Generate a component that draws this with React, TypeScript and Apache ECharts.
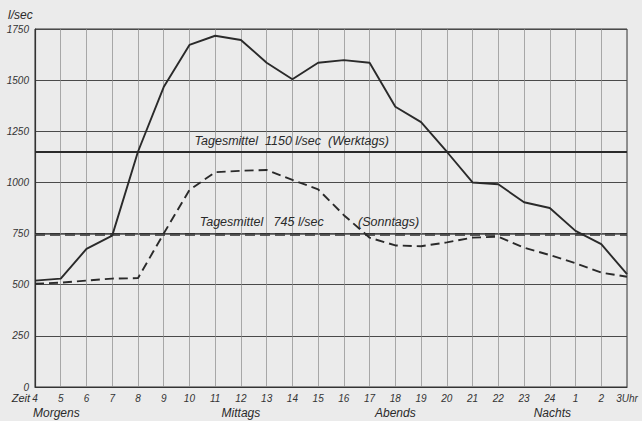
import React, { useEffect, useRef } from "react";
import * as echarts from "echarts";

const hourLabels = ["4","5","6","7","8","9","10","11","12","13","14","15","16","17","18","19","20","21","22","23","24","1","2","3"];
const werktags = [520, 530, 675, 740, 1150, 1466, 1672, 1717, 1696, 1585, 1504, 1585, 1598, 1585, 1370, 1295, 1150, 1000, 991, 903, 875, 763, 698, 552];
const sonntags = [505, 510, 520, 530, 532, 750, 963, 1050, 1057, 1061, 1012, 966, 840, 730, 692, 688, 707, 730, 735, 681, 645, 605, 559, 539];
const meanWerktags = 1150;
const meanSonntags = 745;
const yTicks = { min: 0, max: 1750, interval: 250 };

const FONT = "'Liberation Sans', Arial, sans-serif";
const INK = "#2a2a2a";

export default function App() {
  const ref = useRef<HTMLDivElement>(null);
  useEffect(() => {
    if (!ref.current) return;
    const chart = echarts.init(ref.current, undefined, { renderer: "svg" });
    const option: any = {
      animation: false,
      backgroundColor: "#ebebeb",
      grid: {
        left: 35, right: 15, top: 29, bottom: 34,
        show: true, borderColor: "#333", borderWidth: 1, backgroundColor: "transparent",
      },
      xAxis: {
        type: "category",
        data: hourLabels,
        boundaryGap: false,
        axisLine: { show: true, lineStyle: { color: "#333", width: 1.2 } },
        axisTick: { show: false },
        axisLabel: {
          margin: 6,
          fontFamily: FONT, fontStyle: "italic", fontSize: 10, color: "#333",
          interval: 0,
          formatter: (v: string, i: number) => (i === hourLabels.length - 1 ? v + "Uhr" : v),
        },
        splitLine: { show: true, lineStyle: { color: "#8a8a8a", width: 0.7 } },
      },
      yAxis: {
        type: "value",
        min: yTicks.min, max: yTicks.max, interval: yTicks.interval,
        axisLine: { show: true, lineStyle: { color: "#333", width: 1.2 } },
        axisTick: { show: false },
        axisLabel: {
          margin: 6, fontFamily: FONT, fontStyle: "italic", fontSize: 10, color: "#333",
          formatter: (v: number) => String(v),
        },
        splitLine: { show: true, lineStyle: { color: "#4a4a4a", width: 1 } },
      },
      series: [
        {
          name: "Werktags", type: "line", data: werktags, symbol: "none",
          lineStyle: { color: INK, width: 1.9 }, z: 5,
          markLine: {
            silent: true, symbol: "none", label: { show: false },
            lineStyle: { color: INK, width: 2.2, type: "solid" },
            data: [{ yAxis: meanWerktags }],
          },
        },
        {
          name: "Sonntags", type: "line", data: sonntags, symbol: "none",
          lineStyle: { color: INK, width: 1.9, type: [9, 5] }, z: 5,
          markLine: {
            silent: true, symbol: "none", label: { show: false },
            lineStyle: { color: INK, width: 2.6, type: [10, 5] },
            data: [{ yAxis: meanSonntags }],
          },
        },
        {
          name: "SonntagsBase", type: "line", data: [], symbol: "none",
          markLine: {
            silent: true, symbol: "none", label: { show: false },
            lineStyle: { color: "#555", width: 0.8, type: "solid" },
            data: [{ yAxis: meanSonntags }],
          },
        },
      ],
    };
    chart.setOption(option);

    const p0 = chart.convertToPixel({ gridIndex: 0 }, [0, 0]) as number[];
    const p1 = chart.convertToPixel({ gridIndex: 0 }, [hourLabels.length - 1, yTicks.max]) as number[];
    const px = (i: number) => p0[0] + (p1[0] - p0[0]) * i / (hourLabels.length - 1);
    const py = (v: number) => p0[1] + (p1[1] - p0[1]) * v / yTicks.max;
    const txt = (text: string, x: number, y: number, size: number, align: string, vAlign: string) => ({
      type: "text", x, y, silent: true,
      style: { text, fill: "#2a2a2a", font: `italic ${size}px ${FONT}`, align, verticalAlign: vAlign },
    });
    chart.setOption({
      graphic: [
        txt("l/sec", p0[0] - 27, p1[1] - 14, 12, "left", "middle"),
        txt("Tagesmittel  1150 l/sec  (Werktags)", px(6.2), py(meanWerktags) - 4, 12.5, "left", "bottom"),
        txt("Tagesmittel   745 l/sec", px(6.4), py(meanSonntags) - 6, 12.5, "left", "bottom"),
        txt("(Sonntags)", px(12.55), py(meanSonntags) - 6, 12.5, "left", "bottom"),
        txt("Zeit", p0[0] - 5, p0[1] + 11, 11, "right", "middle"),
        txt("Morgens", px(0.83), p0[1] + 26, 12, "center", "middle"),
        txt("Mittags", px(8), p0[1] + 26, 12, "center", "middle"),
        txt("Abends", px(14), p0[1] + 26, 12, "center", "middle"),
        txt("Nachts", px(20.1), p0[1] + 26, 12, "center", "middle"),
      ],
    });
    return () => chart.dispose();
  }, []);
  return (
    <div
      ref={ref}
      style={{ position: "fixed", left: 0, top: 0, width: 642, height: 421 }}
    />
  );
}
